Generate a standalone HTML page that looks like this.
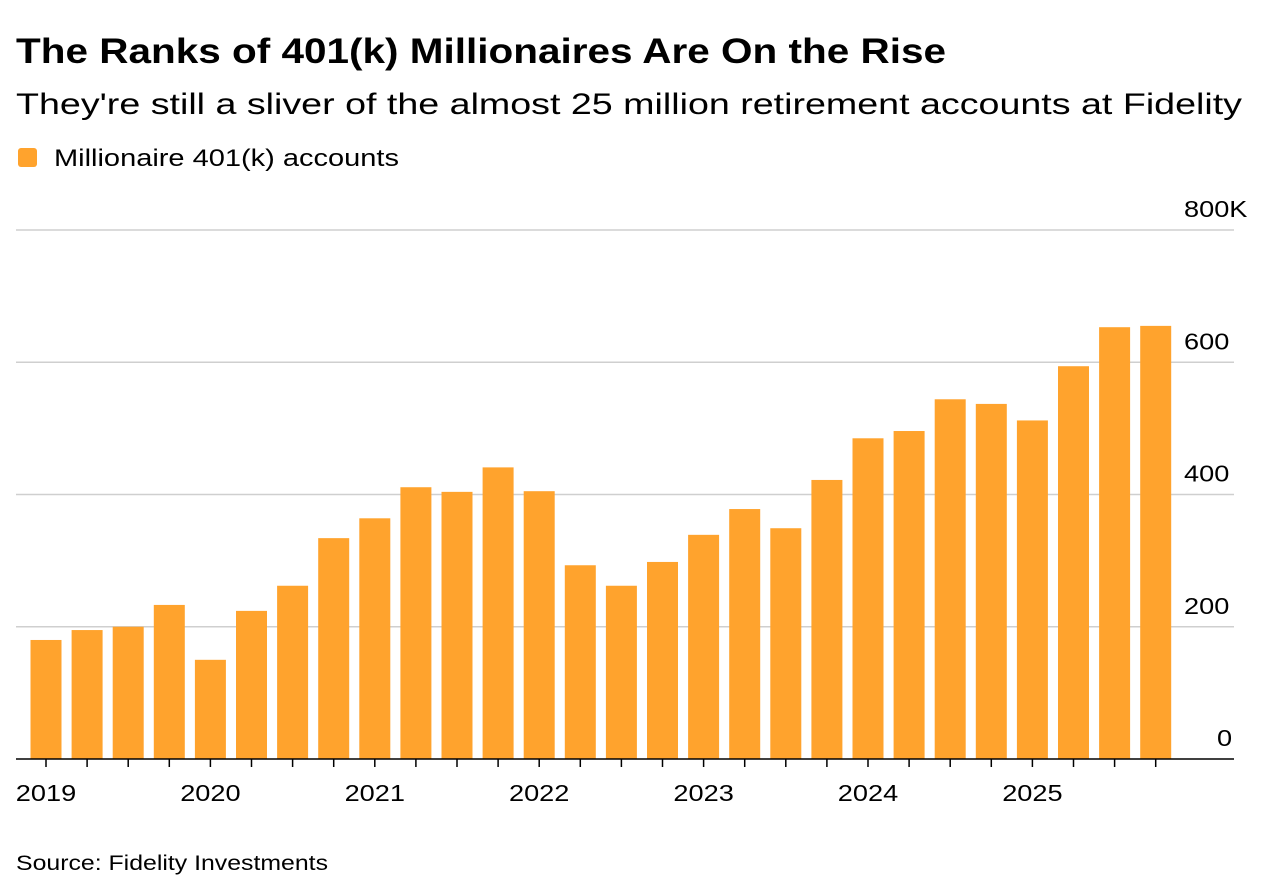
<!DOCTYPE html>
<html><head><meta charset="utf-8"><style>
body{margin:0;background:#fff;font-family:"Liberation Sans",sans-serif;}
svg text{font-family:"Liberation Sans",sans-serif;}
</style></head><body>
<svg width="1266" height="890" xmlns="http://www.w3.org/2000/svg">
<text x="16" y="63" font-size="35" font-weight="bold" fill="#000" textLength="930" lengthAdjust="spacingAndGlyphs">The Ranks of 401(k) Millionaires Are On the Rise</text>
<text x="16" y="114" font-size="30" fill="#000" textLength="1226" lengthAdjust="spacingAndGlyphs">They're still a sliver of the almost 25 million retirement accounts at Fidelity</text>
<rect x="18" y="148" width="19" height="19" rx="3" fill="#ffa32d"/>
<text x="54" y="166" font-size="24" fill="#000" textLength="345" lengthAdjust="spacingAndGlyphs">Millionaire 401(k) accounts</text>
<g id="grid"></g>
<g id="bars"></g>
<g id="xaxis"></g>
<text x="16" y="870" font-size="21" fill="#000" textLength="312" lengthAdjust="spacingAndGlyphs">Source: Fidelity Investments</text>
</svg>
<script>
const values=[180,195,200,233,150,224,262,334,364,411,404,441,405,293,262,298,339,378,349,422,485,496,544,537,512,594,653,655];
const yTicks=[0,200,400,600,800];
const yTickLabels=["0","200","400","600","800K"];
const yearLabels=["2019","2020","2021","2022","2023","2024","2025"];
const NS="http://www.w3.org/2000/svg";
const y0=759,pxPer=(759-230)/800;
const yScale=v=>y0-v*pxPer;
const xScale=i=>46+i*41.1;
function mk(tag,attrs,parent){const e=document.createElementNS(NS,tag);for(const k in attrs)e.setAttribute(k,attrs[k]);parent.appendChild(e);return e;}
function widen(t){const w=t.getComputedTextLength();t.setAttribute('textLength',w*1.18);t.setAttribute('lengthAdjust','spacingAndGlyphs');}
const grid=document.getElementById('grid'),bars=document.getElementById('bars'),xa=document.getElementById('xaxis');
yTicks.forEach((t,i)=>{
 const y=yScale(t);
 if(t>0){const l=mk('line',{x1:16,x2:1234,y1:y,y2:y,stroke:'#cfcfcf','stroke-width':1.5},grid);
 
 }
 const tx=mk('text',{x:t===0?1217:1184,y:y-13,'font-size':23,fill:'#000'},grid);
 tx.textContent=yTickLabels[i];
 
 
 widen(tx);
});
values.forEach((v,i)=>{
 const r=mk('rect',{x:xScale(i)-15.5,y:yScale(v),width:31,height:y0-yScale(v),fill:'#ffa32d'},bars);
 
 
 const tk=mk('line',{x1:xScale(i),x2:xScale(i),y1:y0,y2:y0+8,stroke:'#000','stroke-width':1.5},xa);
 
 
});
const ax=mk('line',{x1:16,x2:1234,y1:y0,y2:y0,stroke:'#000','stroke-width':1.5},xa);


yearLabels.forEach((s,j)=>{
 const t=mk('text',{x:xScale(j*4),y:801,'font-size':23,'text-anchor':'middle',fill:'#000'},xa);
 t.textContent=s;
 
 
 widen(t);
});
</script>
</body></html>
